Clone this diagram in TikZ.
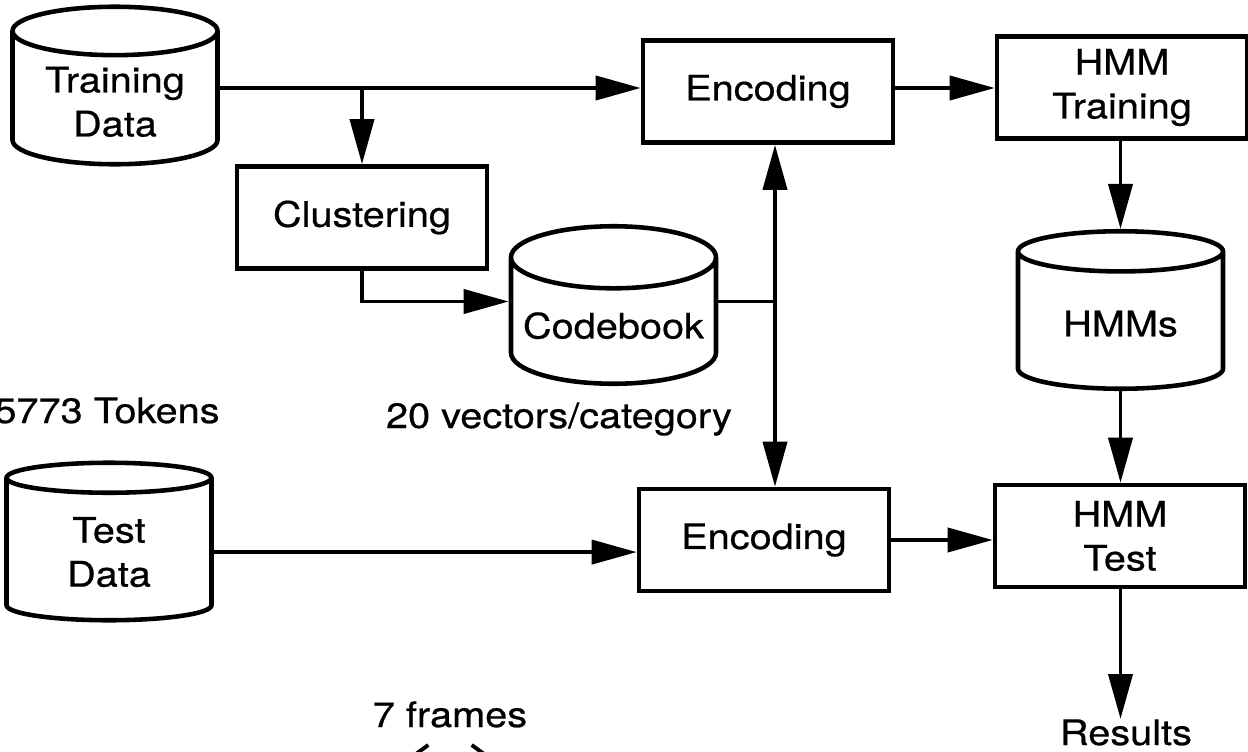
\documentclass[tikz,border=0pt]{standalone}
\usepackage{fontspec}
\setmainfont{TeX Gyre Heros}[FakeStretch=1.13, FakeBold=0.6]
\usetikzlibrary{positioning, arrows.meta, shapes.geometric, calc}

\tikzset{
  blk/.style={draw, line width=2.6pt, minimum width=5cm, minimum height=2.04cm,
    align=center, inner sep=2pt},
  store/.style={cylinder, shape border rotate=90, draw, line width=2.6pt,
    minimum width=4.1cm, minimum height=3.15cm, aspect=0.33, align=center,
    anchor=shape center, inner sep=2pt},
  arr/.style={-{Triangle[length=0.9cm, width=0.48cm]}, line width=2.2pt},
  biarr/.style={{Triangle[length=0.9cm, width=0.48cm]}-{Triangle[length=0.9cm, width=0.48cm]}, line width=2.2pt},
  plain/.style={line width=2.2pt},
  note/.style={anchor=base, inner sep=0pt},
}

\begin{document}
\begin{tikzpicture}[font=\fontsize{20}{25}\selectfont]
  \useasboundingbox (0,0) rectangle (24.96,-15.04);

  % data stores
  \node[store] (train) at (2.30,-1.71) {Training\\Data};
  \node[store] (test) at (2.18,-10.83) {Test\\Data};
  \node[store] (codebook) at (12.27,-6.10) {Codebook};
  \node[store] (hmms) at (22.41,-6.20) {HMMs};

  % processing blocks
  \node[blk] (enc1) at (15.36,-1.83) {Encoding};
  \node[blk] (hmmtrain) at (22.44,-1.75) {HMM\\Training};
  \node[blk] (clust) at (7.24,-4.35) {Clustering};
  \node[blk] (enc2) at (15.28,-10.80) {Encoding};
  \node[blk] (hmmtest) at (22.40,-10.72) {HMM\\Test};

  % notes
  \node[note] (tokens) at (2.14,-8.46) {5773 Tokens};
  \node[note] (vectors) at (11.18,-8.56) {20 vectors/category};
  \node[note] (frames) at (9.00,-14.54) {7 frames};
  \node[note] (results) at (22.52,-14.90) {Results};

  \coordinate (split) at (7.24,-1.76);
  \coordinate (cbjoin) at (15.50,-6.03);
  \coordinate (fa) at (8.20,-15.12);
  \coordinate (fb) at (9.80,-15.12);

  % training path
  \draw[arr] (train.east |- split) -- (enc1.west |- split);
  \draw[arr] (split) -- (clust.north);
  \draw[arr] (clust.south) |- (codebook.west |- cbjoin);
  \draw[arr] (enc1.east |- split) -- (hmmtrain.west |- split);
  \draw[arr] (hmms.north |- hmmtrain.south) -- (hmms.north);
  \draw[arr] (hmms.south) -- (hmmtest.north -| hmms.south);

  % codebook feeds both encoders
  \draw[plain] (codebook.east |- cbjoin) -- (cbjoin);
  \draw[biarr] (enc1.south -| cbjoin) -- (enc2.north -| cbjoin);

  % test path
  \draw[arr] (test.east) -- (enc2.west |- test.east);
  \draw[arr] (enc2.east) -- (hmmtest.west |- enc2.east);
  \draw[arr] (hmmtest.south -| hmms.south) -- (results.north -| hmms.south);

  \draw[plain, {Straight Barb[length=0.3cm, width=0.44cm]}-{Straight Barb[length=0.3cm, width=0.44cm]}] (fa) -- (fb);
\end{tikzpicture}
\end{document}
